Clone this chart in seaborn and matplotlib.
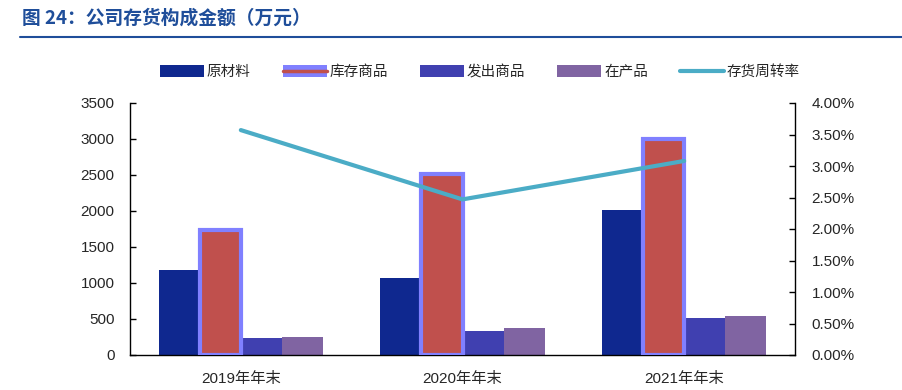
import matplotlib
matplotlib.use("Agg")
import matplotlib.pyplot as plt
import seaborn as sns
import pandas as pd
from matplotlib.patches import Patch
from matplotlib.lines import Line2D
from matplotlib.legend_handler import HandlerTuple
from matplotlib.ticker import FuncFormatter, MultipleLocator

categories = ["2019年年末", "2020年年末", "2021年年末"]
series_names = ["原材料", "库存商品", "发出商品", "在产品"]
raw_materials = [1180, 1070, 2020]
finished_goods = [1740, 2510, 3000]
goods_shipped = [230, 340, 515]
wip = [250, 380, 540]
turnover = [3.57, 2.47, 3.08]  # percent
line_name = "存货周转率"
title = "图 24：公司存货构成金额（万元）"

colors = ["#0F288F", "#C0504D", "#4040B0", "#8064A2"]
line_color = "#4BACC6"
edge_hl = "#8080FF"

sns.set_theme(style="white")
plt.rcParams["font.family"] = ["Liberation Sans", "Noto Sans CJK SC"]

df = pd.DataFrame({
    "cat": categories * 4,
    "series": sum([[s] * 3 for s in series_names], []),
    "val": raw_materials + finished_goods + goods_shipped + wip,
})

fig = plt.figure(figsize=(9.02, 3.90), dpi=100)
ax = fig.add_axes([130 / 902, 1 - 355 / 390, 665 / 902, 252 / 390])

sns.barplot(data=df, x="cat", y="val", hue="series", hue_order=series_names,
            palette=colors, width=0.74, saturation=1, ax=ax, legend=False,
            linewidth=0)

# highlight 库存商品 bars
for cont, name in zip(ax.containers, series_names):
    if name == "库存商品":
        for p in cont:
            p.set_edgecolor(edge_hl)
            p.set_linewidth(3)
            p.set_zorder(3)

ax.set_xlim(-0.5, 2.5)
ax.set_ylim(0, 3500)
ax.yaxis.set_major_locator(MultipleLocator(500))
ax.set_xlabel("")
ax.set_ylabel("")
ax.set_xticks([0, 1, 2])
ax.set_xticklabels(categories, fontsize=11)
ax.set_xticks([0.5, 1.5], minor=True)
ax.tick_params(axis="x", which="major", length=0, pad=12)
ax.tick_params(axis="x", which="minor", length=4, direction="in", width=1, color="black")
ax.tick_params(axis="y", direction="in", length=4, width=1, color="black", labelsize=11, pad=11)
ax.spines["top"].set_visible(False)
ax.spines["right"].set_visible(False)
for s in ["left", "bottom"]:
    ax.spines[s].set_color("black")
    ax.spines[s].set_linewidth(1)

ax2 = ax.twinx()
ldf = pd.DataFrame({"x": [0, 1, 2], "y": turnover})
sns.lineplot(data=ldf, x="x", y="y", color=line_color, linewidth=3, ax=ax2)
ax2.set_ylim(0, 4)
ax2.yaxis.set_major_locator(MultipleLocator(0.5))
ax2.yaxis.set_major_formatter(FuncFormatter(lambda v, p: f"{v:.2f}%"))
ax2.set_ylabel("")
ax2.set_xlabel("")
ax2.tick_params(axis="y", direction="in", length=4, width=1, color="black", labelsize=11, pad=12)
ax2.spines["top"].set_visible(False)
ax2.spines["left"].set_visible(False)
ax2.spines["bottom"].set_visible(False)
ax2.spines["right"].set_color("black")
ax2.spines["right"].set_linewidth(1)
ax2.set_xlim(-0.5, 2.5)

handles = [
    Patch(facecolor=colors[0], linewidth=0),
    (Patch(facecolor=edge_hl, linewidth=0), Line2D([], [], color=colors[1], lw=2.5)),
    Patch(facecolor=colors[2], linewidth=0),
    Patch(facecolor=colors[3], linewidth=0),
    Line2D([], [], color=line_color, lw=3),
]
labels = series_names + [line_name]
fig.legend(handles, labels, loc="center", bbox_to_anchor=(480 / 902, 1 - 72 / 390),
           ncol=5, frameon=False, fontsize=10.5, handlelength=3.0, handleheight=0.9,
           handletextpad=0.2, columnspacing=2.2,
           handler_map={tuple: HandlerTuple(ndivide=1)})

fig.text(22 / 902, 1 - 18 / 390, title, fontsize=13.5, fontweight="bold",
         color="#1F4E9A", va="center", ha="left",
         family=["Noto Sans CJK SC", "DejaVu Sans"])
fig.add_artist(Line2D([20 / 902, 1.0], [1 - 37 / 390, 1 - 37 / 390],
                      color="#1F4E9A", lw=1.5, transform=fig.transFigure))

fig.savefig("out.png", dpi=100)
